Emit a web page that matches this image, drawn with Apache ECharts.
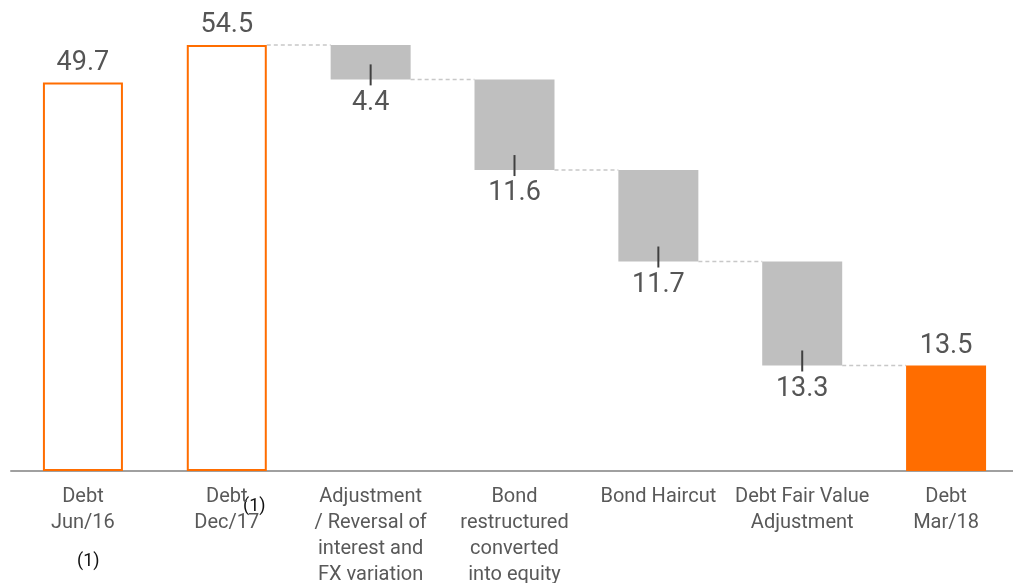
<!DOCTYPE html>
<html>
<head>
<meta charset="utf-8">
<script src="https://cdn.jsdelivr.net/npm/echarts@6/dist/echarts.min.js"></script>
<style>
  html, body { margin: 0; padding: 0; background: #fff; }
  #chart { width: 1013px; height: 583px; }
</style>
</head>
<body>
<div id="chart"></div>
<script>
// data
const categories = [
  'Debt\nJun/16',
  'Debt\nDec/17',
  'Adjustment\n/ Reversal of\ninterest and\nFX variation',
  'Bond\nrestructured\nconverted\ninto equity',
  'Bond Haircut',
  'Debt Fair Value\nAdjustment',
  'Debt\nMar/18'
]
const totals = [49.7, 54.5, null, null, null, null, 13.5]
const changes = [null, null, 4.4, 11.6, 11.7, 13.3, null]

const ORANGE = '#FF6D00'
const GRAY = '#BFBFBF'

// running level for the waterfall
const bases = []
const levels = [] // level at the right edge of each bar
let level = 0
for (let i = 0; i < categories.length; i++) {
  if (totals[i] != null) {
    level = totals[i]
    bases.push(0)
  } else {
    level = level - changes[i]
    bases.push(level)
  }
  levels.push(level)
}

// connectors start at bar i and run to bar i+1 (none between the two opening totals)
const connectors = []
for (let i = 1; i < categories.length - 1; i++) {
  connectors.push([i, levels[i]])
}
const ticks = []
for (let i = 0; i < categories.length; i++) {
  if (changes[i] != null) ticks.push([i, bases[i]])
}

const chart = echarts.init(document.getElementById('chart'))

const option = {
  animation: false,
  grid: { left: 11, width: 1007, top: 2, bottom: 112, containLabel: false, outerBoundsMode: 'none' },
  xAxis: {
    type: 'category',
    data: categories,
    axisLine: { lineStyle: { color: '#A0A0A0', width: 2 } },
    axisTick: { show: false },
    axisLabel: {
      interval: 0,
      margin: 13,
      color: '#595959',
      fontFamily: 'Roboto',
      fontSize: 20,
      lineHeight: 26
    }
  },
  yAxis: {
    type: 'value',
    min: 0,
    max: 60,
    show: false,
    splitLine: { show: false }
  },
  series: [
    {
      name: 'base',
      type: 'bar',
      stack: 'w',
      barWidth: 80,
      itemStyle: { color: 'transparent' },
      silent: true,
      data: bases
    },
    {
      name: 'change',
      type: 'bar',
      stack: 'w',
      barWidth: 80,
      itemStyle: { color: GRAY },
      label: {
        show: true,
        position: 'bottom',
        distance: 10,
        color: '#555',
        fontFamily: 'Roboto',
        fontSize: 27
      },
      data: changes.map(v => v == null ? '-' : v)
    },
    {
      name: 'total',
      type: 'bar',
      stack: 'w',
      barWidth: 80,
      label: {
        show: true,
        position: 'top',
        distance: 6,
        color: '#555',
        fontFamily: 'Roboto',
        fontSize: 27
      },
      data: totals.map((v, i) => {
        if (v == null) return '-'
        if (i === categories.length - 1) {
          return { value: v, itemStyle: { color: ORANGE } }
        }
        return { value: v, itemStyle: { color: '#fff', borderColor: ORANGE, borderWidth: 2 } }
      })
    },
    {
      name: 'connector',
      type: 'custom',
      clip: false,
      silent: true,
      z: 1,
      renderItem: function (params, api) {
        const p = api.coord([api.value(0), api.value(1)])
        const w = api.size([1, 0])[0]
        return {
          type: 'line',
          shape: { x1: p[0] + 40, y1: p[1], x2: p[0] + w - 40, y2: p[1] },
          style: { stroke: '#C8C8C8', lineWidth: 1.5, lineDash: [4, 3] }
        }
      },
      data: connectors
    },
    {
      name: 'tick',
      type: 'custom',
      clip: false,
      silent: true,
      z: 5,
      renderItem: function (params, api) {
        const p = api.coord([api.value(0), api.value(1)])
        return {
          type: 'line',
          shape: { x1: p[0], y1: p[1] - 15, x2: p[0], y2: p[1] + 6 },
          style: { stroke: '#404040', lineWidth: 2 }
        }
      },
      data: ticks
    }
  ],
  graphic: [
    {
      type: 'text',
      left: 77,
      top: 552,
      style: { text: '(1)', fill: '#111', font: '18px Roboto' }
    },
    {
      type: 'text',
      left: 243,
      top: 497,
      style: { text: '(1)', fill: '#111', font: '18px Roboto' }
    }
  ]
}

chart.setOption(option)
</script>
</body>
</html>
